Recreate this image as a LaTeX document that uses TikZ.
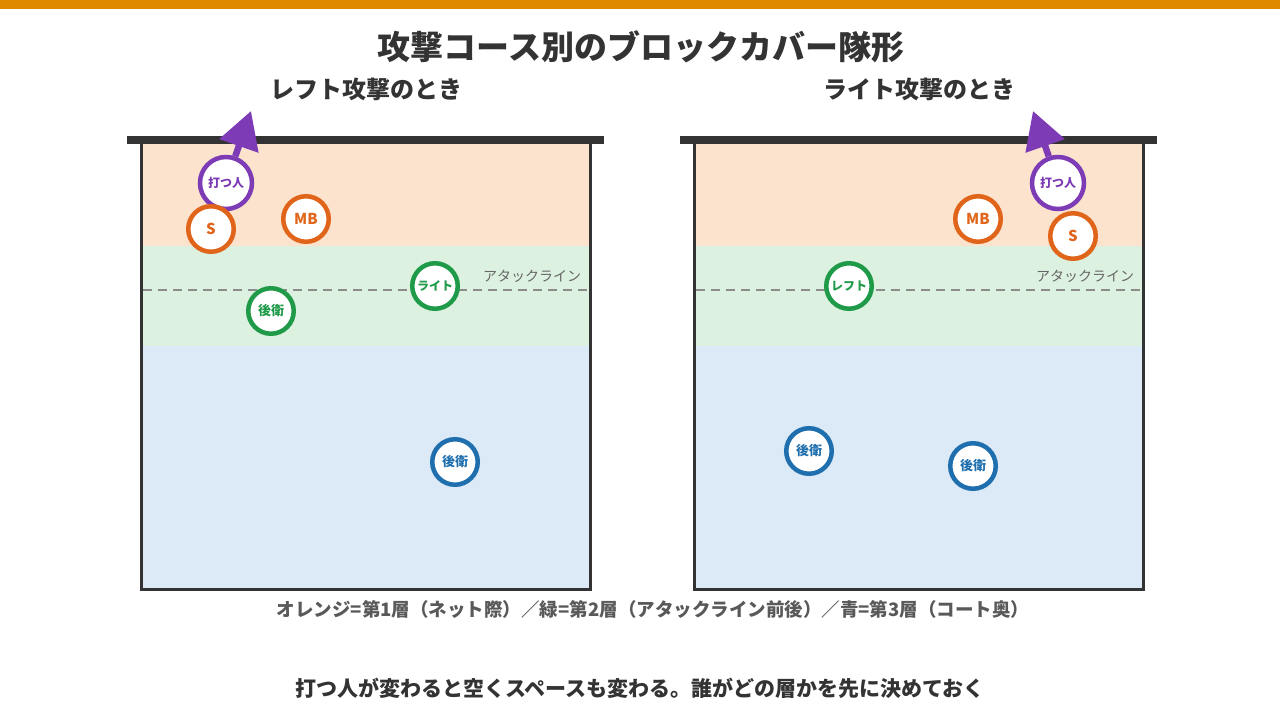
\documentclass[tikz,border=0pt]{standalone}
\usepackage{fontspec}
\setmainfont{Noto Sans CJK JP}
\usetikzlibrary{arrows.meta,positioning}
\definecolor{barorange}{HTML}{DE8900}
\definecolor{netgray}{HTML}{333333}
\definecolor{zoneone}{HTML}{FBE3CE}
\definecolor{zonetwo}{HTML}{DDF1E0}
\definecolor{zonethree}{HTML}{DCE9F6}
\definecolor{pOrange}{HTML}{E0651B}
\definecolor{pGreen}{HTML}{1E9A48}
\definecolor{pBlue}{HTML}{1F6FAE}
\definecolor{pPurple}{HTML}{7D3CB5}
\tikzset{
  player/.style={circle,draw=#1,line width=4.5pt,fill=white,text=#1,
    minimum size=45.5pt,inner sep=0pt,font=\bfseries\fontsize{13}{13}\selectfont},
  striker/.style={player=pPurple,minimum size=52pt,font=\bfseries\fontsize{12}{12}\selectfont},
  hit/.style={draw=pPurple,line width=6.5pt,-{Triangle[length=37pt,width=40pt]}},
  heading/.style={font=\bfseries\fontsize{24}{24}\selectfont,text=netgray},
}
\begin{document}
\begin{tikzpicture}[x=1pt,y=-1pt]
  \useasboundingbox (0,0) rectangle (1280,720);
  \fill[barorange] (0,0) rectangle (1280,9);
  \node[font=\bfseries\fontsize{33}{33}\selectfont,text=netgray] (title) at (641,47) {攻撃コース別のブロックカバー隊形};
  \node[heading] (subL) at (366,89) {レフト攻撃のとき};
  \node[heading] (subR) at (919,89) {ライト攻撃のとき};
  % two courts: zones, attack line, frame, net
  \foreach \ox/\sd in {0/L,553/R}{
    \fill[zoneone] (141+\ox,144) rectangle (590+\ox,246);
    \fill[zonetwo] (141+\ox,246) rectangle (590+\ox,346);
    \fill[zonethree] (141+\ox,346) rectangle (590+\ox,589);
    \draw[gray!90,line width=2pt,dash pattern=on 9pt off 6pt] (143+\ox,290) -- (588+\ox,290);
    \node[text=black!60,font=\fontsize{14}{14}\selectfont] (atk\sd) at (532+\ox,276) {アタックライン};
    \draw[netgray,line width=3pt] (141+\ox,140) -- (141+\ox,589) -- (590+\ox,589) -- (590+\ox,140);
    \draw[netgray,line width=8pt] (127+\ox,140) -- (604+\ox,140);
  }
  % left attack
  \node[striker] (strikerL) at (226,183) {打つ人};
  \node[player=pOrange,font=\bfseries\fontsize{15}{15}\selectfont] (setterL) at (211,229) {S};
  \node[player=pOrange,font=\bfseries\fontsize{15}{15}\selectfont] (mbL) at (306,219) {MB};
  \node[player=pGreen,font=\bfseries\fontsize{12}{12}\selectfont] (wingL) at (435,286) {ライト};
  \node[player=pGreen] (backgL) at (271,311) {後衛};
  \node[player=pBlue] (backbL) at (455,462) {後衛};
  \coordinate (aimL) at (251,111);
  \draw[hit] (strikerL) -- (aimL);
  % right attack
  \node[striker] (strikerR) at (1058,183) {打つ人};
  \node[player=pOrange,font=\bfseries\fontsize{15}{15}\selectfont] (setterR) at (1073,236) {S};
  \node[player=pOrange,font=\bfseries\fontsize{15}{15}\selectfont] (mbR) at (978,219) {MB};
  \node[player=pGreen,font=\bfseries\fontsize{12}{12}\selectfont] (wingR) at (849,286) {レフト};
  \node[player=pBlue] (backaR) at (809,451) {後衛};
  \node[player=pBlue] (backbR) at (973,466) {後衛};
  \coordinate (aimR) at (1033,111);
  \draw[hit] (strikerR) -- (aimR);
  \node[font=\bfseries\fontsize{18.5}{18.5}\selectfont,text=black!65] (legend) at (653,609)
    {オレンジ=第1層（ネット際）／緑=第2層（アタックライン前後）／青=第3層（コート奥）};
  \node[font=\bfseries\fontsize{21}{21}\selectfont,text=netgray] (note) at (640,688)
    {打つ人が変わると空くスペースも変わる。誰がどの層かを先に決めておく};
\end{tikzpicture}
\end{document}
